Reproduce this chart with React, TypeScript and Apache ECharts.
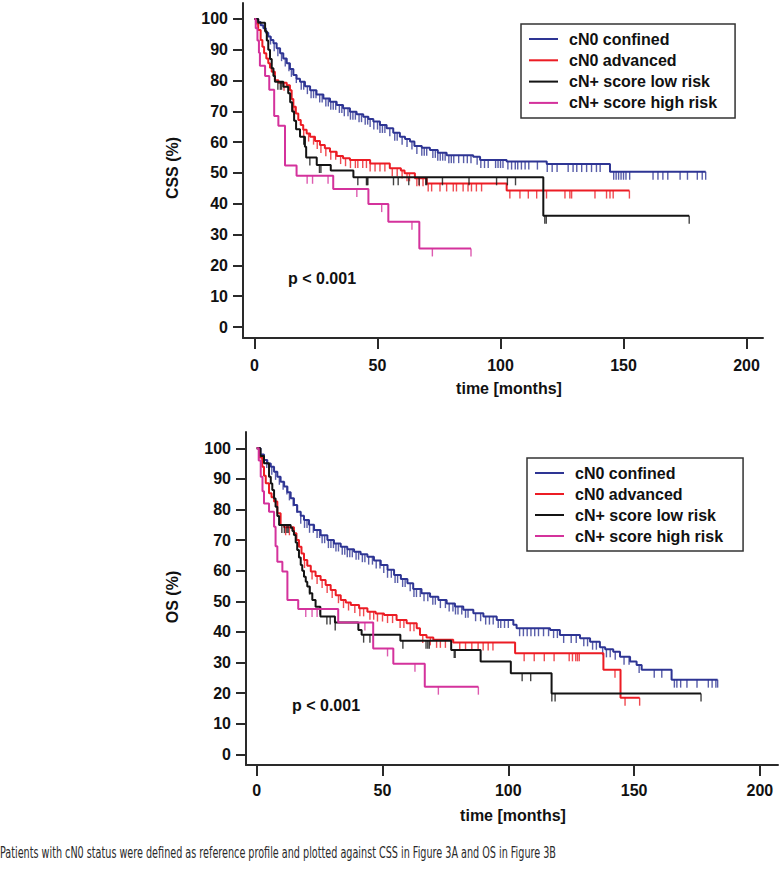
import React, { useEffect, useRef } from 'react';
import * as echarts from 'echarts';

const SERIES_NAMES = ['cN0 confined', 'cN0 advanced', 'cN+ score low risk', 'cN+ score high risk'];
const COLORS = ['#2e3594', '#ec1c24', '#141414', '#d4329c'];
const X_TICKS = [0, 50, 100, 150, 200];
const Y_TICKS = [0, 10, 20, 30, 40, 50, 60, 70, 80, 90, 100];
const Y_TITLES = ['CSS (%)', 'OS (%)'];
const X_TITLE = 'time [months]';
const P_TEXT = 'p < 0.001';
const CAPTION = 'Patients with cN0 status were defined as reference profile and plotted against CSS in Figure 3A and OS in Figure 3B';

// ---- Figure A: CSS (time in months, survival %) ----
const cssConfined = [[0,100],[1.5,99],[2.5,98],[3.6,97],[4.6,95.5],[5.6,94.3],[6.6,93.2],[7.7,92.1],[9,90.5],[10.4,88.9],[11.7,87.2],[13.1,85.6],[14.4,83.8],[15.8,81.8],[17.1,80.6],[18.5,79.6],[20.5,78.2],[22.6,76.9],[25.2,75.5],[28,74.2],[30.7,73.1],[33.4,72.1],[36,71],[38.8,69.9],[41.5,69.1],[44.2,68.3],[46.3,67.5],[48.3,66.7],[51,65.6],[53.7,64.5],[56.4,63.1],[59.1,61.8],[61.2,61],[63.2,60.2],[65,58.8],[68,58.2],[71.3,57.5],[74.5,56.6],[78.1,55.8],[88.9,55.3],[91.7,54.2],[102.5,53.7],[118.8,52.9],[144.5,50.4],[183.4,50.4]];
const cssAdvanced = [[0,100],[0.6,98.5],[1.5,96.4],[2.5,93.2],[3.2,91],[3.9,88.9],[4.8,87.2],[5.6,85.6],[6.3,84.2],[7,82.9],[8.3,80.1],[9.7,79.3],[13.1,78.5],[14.4,76.9],[15.1,74],[15.8,71.5],[16.8,69.3],[17.8,67.2],[18.8,65.6],[19.8,64],[21.2,62.8],[22.6,61.8],[24.6,60.4],[26.6,59.1],[28.6,58],[30.7,56.9],[33.4,55.5],[36,54.8],[38.8,54.2],[47,53.1],[55,51.5],[59.5,50.8],[61,49.9],[65.2,48.3],[70,46.6],[102.5,44.3],[152.4,44.3]];
const cssLowRisk = [[0,100],[1.5,98.8],[4.3,96],[5,93],[5.6,90],[6.3,87],[7,84],[7.7,81.5],[8.3,79.6],[11.7,78],[13.7,75.9],[14.5,73],[15.3,70],[16.1,67],[16.9,64.2],[18.5,61.8],[20.5,58.5],[21,55],[25.3,52.6],[31,50.8],[40.2,48.6],[117.4,36.1],[176.7,36.1]];
const cssHighRisk = [[0,100],[0.5,97],[1.2,93],[1.8,89],[2.2,84.8],[4.3,81.5],[6,77],[8,68.5],[9.7,65.3],[12.4,52.4],[17.1,49.1],[32,44.8],[46.3,39.9],[54.4,34.2],[67,25.5],[88,25.5]];

const cssConfinedCensor = [5, 6.5, 8, 9.5, 11, 12.5, 14, 15, 17, 19, 20, 21.5, 23, 24, 25, 26.5, 27.5, 29, 30, 31, 32, 33, 34.5, 35.5, 36.5, 38, 39, 40, 41, 42.5, 43.5, 45, 46, 47, 48.5, 50, 51, 52, 53, 55, 57, 58, 60, 62, 64, 66, 68, 69, 70, 72.5, 73.5, 74.5, 75.5, 76.5, 77.5, 79, 80, 81, 83, 85, 86.5, 88, 90.5, 92, 93.5, 95, 98, 99, 100, 101, 103, 104.5, 106, 107, 108.5, 110, 111.5, 115, 119, 121, 123, 127.5, 129.5, 131, 133, 135, 137, 139, 140.5, 146, 147, 148, 149, 150, 151, 152.5, 162, 164, 166, 168, 173, 176, 180, 182, 183.4];
const cssAdvancedCensor = [12, 16, 20, 22, 24, 25.5, 27, 29, 31, 33, 35, 37, 39, 41, 42, 44, 45.5, 47, 49, 51, 53, 56, 58, 60, 62, 63, 66, 67, 68.5, 70.6, 72, 75.4, 78.1, 80.8, 82.1, 84.8, 86.8, 88.2, 90.2, 92.3, 103.8, 107.9, 111.3, 114.7, 118.7, 126.2, 128.2, 128.9, 138.4, 143.1, 144.5, 145.8, 152.4];
const cssLowRiskCensor = [9.5, 10.5, 11, 20, 22.5, 26.4, 27, 42, 45.5, 45.8, 46.1, 56.5, 58.4, 62.7, 66.9, 69.6, 70, 76.4, 87.2, 98.4, 102.8, 106.1, 118, 118.6, 176.7];
const cssHighRiskCensor = [21.4, 23.6, 29.9, 41.6, 51.7, 64, 72.3, 88];

// ---- Figure B: OS ----
const osConfined = [[0,100],[1.5,98],[2.9,96.2],[4.2,95],[5.6,94],[6.9,92.3],[8.2,90.7],[9.5,89.1],[10.9,87.5],[12.2,85.6],[13.5,83.7],[14.8,81.5],[16.1,79.3],[17.5,78],[18.8,76.6],[20.8,75],[22.8,73.3],[25.4,71.6],[28.1,70],[30.7,68.9],[33.4,67.8],[36,67],[38.7,66.2],[41.3,65.4],[44,64.6],[46.6,63.3],[49.3,61.9],[52,60.3],[54.6,58.6],[57.3,57.3],[59.9,55.9],[62.2,54],[65.5,52.6],[68.9,51.5],[72.2,50.4],[75.5,49.3],[78.8,48.3],[82.1,47.2],[86.1,46.1],[90.1,45],[95.4,43.9],[102,42.3],[103.3,41.2],[116.6,40.6],[120.5,39],[128.5,37.9],[132.5,36.8],[136.4,35],[138.5,34.3],[141.7,33.5],[144.4,31.9],[148.4,30.3],[151,29.2],[153,27.6],[164.9,24.4],[183.2,24.4]];
const osAdvanced = [[0,100],[1,97],[2.2,94],[2.9,91],[3.6,88.6],[4.9,85.3],[5.9,84],[6.9,82.6],[8.2,78.8],[9.5,74.9],[10.9,74.2],[14.8,72.2],[15.8,70],[16.8,67.8],[17.8,65.6],[18.8,63.5],[20.1,61.6],[21.5,59.7],[23.4,58.3],[25.4,57],[27.4,55.3],[29.4,53.7],[31.4,52],[33.4,50.4],[35.4,49.6],[37.4,48.8],[40.7,47.7],[44,46.6],[47.3,46],[50.6,45.5],[55.6,43.9],[59.6,42.8],[63.6,41.2],[64.9,39],[67.5,38.2],[70.2,37.4],[78.1,36.5],[102.7,33],[137.8,27.6],[144.6,18.5],[152.2,18.5]];
const osLowRisk = [[0,100],[1.5,97.5],[2.9,95.1],[4.9,90.7],[5.6,88.5],[6.2,86.4],[6.9,83.6],[7.5,80.9],[8.2,77.9],[8.9,74.9],[13.5,74],[14.2,73],[14.8,71.7],[15.5,69.2],[16.1,66.8],[16.8,64.3],[17.5,61.9],[18.1,60],[18.8,58],[19.5,56.4],[20.1,54.8],[21.1,52.6],[22.1,50.4],[23.4,48.2],[25.3,45],[31.1,43.1],[40.4,40.6],[41.7,39.1],[57.1,37.1],[77.3,34.1],[89,30.3],[101,26.5],[117.2,19.9],[176.6,19.9]];
const osHighRisk = [[0,100],[0.8,96],[1.6,90.7],[2.3,86],[2.9,82],[4.9,79.3],[6.9,74.4],[7.5,68],[8.2,62.9],[10.2,59.7],[12.2,50.4],[16.5,47.5],[32.4,43.1],[46.3,34.6],[54.3,29.6],[66.8,22.1],[88.1,22.1]];

const osConfinedCensor = [4, 6, 7.5, 9, 10.5, 12, 13, 14.5, 16, 17.5, 19, 20, 21, 22.5, 24, 25, 26, 27, 28.5, 29.5, 30.5, 31.5, 32.5, 34, 35, 36, 37, 38, 39.5, 40.5, 42, 43, 44.5, 46, 47.5, 49, 50.5, 52, 53.5, 55, 56, 58, 59, 61, 62.5, 63.5, 65, 66.5, 68, 70, 71, 73, 75, 76.5, 78, 79, 80, 81.5, 83, 84, 87, 89, 91, 92.5, 94, 96, 97, 98.5, 100, 104.5, 106, 107.5, 109, 110.5, 112, 114, 116, 118, 119.5, 122, 125, 127, 130, 131.5, 133.5, 135, 137.5, 139, 140.5, 142.5, 146, 148, 152, 158, 161, 166, 167, 168.5, 171, 175, 179.5, 181, 182.5, 183.2];
const osAdvancedCensor = [11.5, 13, 19, 22, 24, 26, 28, 30, 32.5, 34.5, 36.5, 39, 41, 42.5, 45, 46.5, 48, 50, 52, 54, 57, 58.5, 61, 62.5, 66, 69, 71.5, 73, 75, 80.7, 83, 85.5, 88, 90, 92, 93.9, 106.3, 110.3, 114.3, 118.2, 124.2, 125.5, 126.8, 127.5, 128.2, 142.4, 146.4, 152.2];
const osLowRiskCensor = [10, 11, 12, 12.5, 21, 25.2, 27.9, 29.2, 31.2, 42.5, 45, 58.1, 67.3, 68, 68.6, 78.5, 78.9, 105.5, 108.9, 117.3, 118.6, 176.6];
const osHighRiskCensor = [19.5, 22, 24, 43, 52, 62.9, 72.2, 88.1];

const PANELS = [
  { curves: [cssConfined, cssAdvanced, cssLowRisk, cssHighRisk], censors: [cssConfinedCensor, cssAdvancedCensor, cssLowRiskCensor, cssHighRiskCensor] },
  { curves: [osConfined, osAdvanced, osLowRisk, osHighRisk], censors: [osConfinedCensor, osAdvancedCensor, osLowRiskCensor, osHighRiskCensor] },
];

const FONT = '"Liberation Sans", Arial, Helvetica, sans-serif';

function survAt(curve: number[][], t: number): number {
  let v = curve[0][1];
  for (const p of curve) {
    if (p[0] <= t + 1e-9) v = p[1];
    else break;
  }
  return v;
}

export default function App() {
  const ref = useRef<HTMLDivElement>(null);
  useEffect(() => {
    if (!ref.current) return;
    const chart = echarts.init(ref.current, undefined, { renderer: 'svg' });

    const grids = [
      { left: 243, top: 3, width: 520, height: 335 },
      { left: 246, top: 432, width: 532, height: 333 },
    ];
    const xRanges = [[-4.675, 206.7], [-4.253, 207.19]];
    const yRanges = [[-3.571, 105.19], [-3.497, 105.33]];
    const xLabelMargin = [19, 17];

    const axisCommon = {
      axisLine: { show: true, onZero: false, lineStyle: { color: '#2a2a2a', width: 2 } },
      splitLine: { show: false },
    };

    const xAxis = grids.map((_, i) => ({
      type: 'value', gridIndex: i, min: xRanges[i][0], max: xRanges[i][1],
      ...axisCommon,
      axisTick: { show: true, length: 11, customValues: X_TICKS, lineStyle: { color: '#2a2a2a', width: 2 } },
      axisLabel: { customValues: X_TICKS, margin: xLabelMargin[i], fontSize: 16, fontWeight: 'bold', fontFamily: FONT, color: '#111' },
    }));
    const yAxis = grids.map((_, i) => ({
      type: 'value', gridIndex: i, min: yRanges[i][0], max: yRanges[i][1],
      ...axisCommon,
      axisTick: { show: true, length: 10, customValues: Y_TICKS, lineStyle: { color: '#2a2a2a', width: 2 } },
      axisLabel: { customValues: Y_TICKS, margin: 15, fontSize: 16, fontWeight: 'bold', fontFamily: FONT, color: '#111' },
    }));

    const series: any[] = [];
    PANELS.forEach((panel, pi) => {
      panel.curves.forEach((curve, ci) => {
        series.push({
          type: 'line', name: SERIES_NAMES[ci], xAxisIndex: pi, yAxisIndex: pi,
          data: curve, step: 'end', symbol: 'none', showSymbol: false,
          lineStyle: { width: 2, color: COLORS[ci] }, itemStyle: { color: COLORS[ci] },
          z: 2 + ci, silent: true,
        });
        series.push({
          type: 'scatter', name: SERIES_NAMES[ci] + ' censored', xAxisIndex: pi, yAxisIndex: pi,
          data: panel.censors[ci].map((t) => [t, survAt(curve, t)]),
          symbol: 'rect', symbolSize: [1.4, 8], symbolOffset: [0, 4],
          itemStyle: { color: COLORS[ci] }, z: 2 + ci, silent: true,
        });
      });
    });

    const legendCommon = {
      orient: 'vertical', data: SERIES_NAMES, borderColor: '#333', borderWidth: 1.5, backgroundColor: '#fff',
      itemWidth: 29, itemHeight: 14, selectedMode: false,
      icon: 'path://M0,0L100,0L100,7L0,7Z', symbolKeepAspect: true,
      textStyle: { fontSize: 16, fontWeight: 'bold', fontFamily: FONT, color: '#111', padding: [0, 0, 0, 6] },
    };
    const legend = [
      { ...legendCommon, left: 521, top: 24, padding: [7, 18, 7, 8], itemGap: 5.3 },
      { ...legendCommon, left: 527, top: 458, padding: [7, 20, 7, 8], itemGap: 5 },
    ];

    const titleStyle = { fontSize: 16, fontWeight: 'bold', fontFamily: FONT, fill: '#111', align: 'center', verticalAlign: 'middle' };
    const graphic = [
      { type: 'text', x: 172, y: 168, rotation: Math.PI / 2, style: { ...titleStyle, text: Y_TITLES[0] } },
      { type: 'text', x: 172, y: 597, rotation: Math.PI / 2, style: { ...titleStyle, text: Y_TITLES[1] } },
      { type: 'text', x: 509, y: 388, style: { ...titleStyle, text: X_TITLE } },
      { type: 'text', x: 513, y: 815, style: { ...titleStyle, text: X_TITLE } },
      { type: 'text', x: 288, y: 278, style: { ...titleStyle, align: 'left', text: P_TEXT } },
      { type: 'text', x: 292, y: 705, style: { ...titleStyle, align: 'left', text: P_TEXT } },
      { type: 'text', x: 0, y: 852, scaleX: 0.67, style: { text: CAPTION, fontSize: 16, fontFamily: '"Liberation Sans Narrow", "DejaVu Sans Condensed", sans-serif', fill: '#2a2a2a', align: 'left', verticalAlign: 'middle' } },
    ];

    chart.setOption({
      animation: false,
      backgroundColor: '#fff',
      grid: grids.map((g) => ({ ...g, containLabel: false })),
      xAxis, yAxis, series, legend, graphic,
    });
    return () => chart.dispose();
  }, []);
  return <div ref={ref} style={{ position: 'fixed', left: 0, top: 0, width: 781, height: 881 }} />;
}
